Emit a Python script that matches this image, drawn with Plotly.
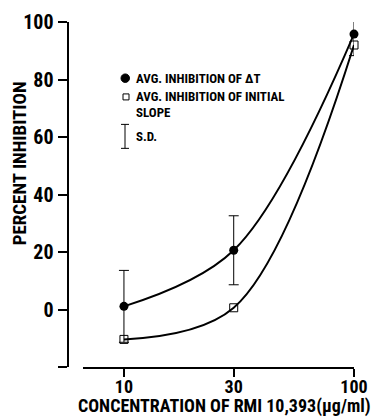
import plotly.graph_objects as go

# data
conc = [10, 30, 100]
avg_dt = [1.1, 20.6, 95.8]
sd_dt = [12.5, 12.0, 7.5]
avg_slope = [-10.4, 0.6, 92.0]
y_ticks = [-20, 0, 20, 40, 60, 80, 100]
y_tick_text = ["", "0", "20", "40", "60", "80", "100"]
x_ticks = [10, 30, 100]
x_tick_text = ["10", "30", "100"]

FONT = "Roboto Condensed, Liberation Sans Narrow, DejaVu Sans Condensed, Roboto, sans-serif"
W, H = 376, 418
ML, MR, MT, MB = 0, 22, 21.5, 51.1
PW = W - ML - MR
PH = H - MT - MB


def px(x):
    return (x - ML) / PW


def py(y):
    return (H - MB - y) / PH


fig = go.Figure()
fig.add_trace(go.Scatter(
    x=conc, y=avg_dt, mode="lines+markers",
    line=dict(color="black", width=2, shape="spline", smoothing=1.0),
    marker=dict(symbol="circle", size=9, color="black"),
    error_y=dict(type="data", array=sd_dt, visible=True, color="black",
                 thickness=1, width=5),
    cliponaxis=False, showlegend=False))
fig.add_trace(go.Scatter(
    x=conc, y=avg_slope, mode="lines+markers",
    line=dict(color="black", width=2, shape="spline", smoothing=1.0),
    marker=dict(symbol="square-open", size=8, color="black",
                line=dict(width=1)),
    cliponaxis=False, showlegend=False))

fig.update_layout(
    width=W, height=H,
    margin=dict(l=ML, r=MR, t=MT, b=MB, pad=0),
    paper_bgcolor="white", plot_bgcolor="white",
    xaxis=dict(type="log", range=[0.822, 2.0], domain=[px(83), 1],
               showgrid=False, zeroline=False, showline=True,
               linecolor="black", linewidth=2, ticks="outside",
               ticklen=2, tickwidth=2, tickcolor="black",
               minor=dict(tickvals=x_ticks, ticks="outside", ticklen=8,
                          tickwidth=2, tickcolor="black", showgrid=False),
               tickvals=x_ticks, ticktext=x_tick_text,
               tickfont=dict(family=FONT, size=18, color="black", weight="bold")),
    yaxis=dict(range=[-20, 100], anchor="free", position=px(67.5),
               showgrid=False, zeroline=False, showline=True,
               linecolor="black", linewidth=2, ticks="outside",
               ticklen=9, tickwidth=2, tickcolor="black",
               tickvals=y_ticks, ticktext=y_tick_text,
               tickfont=dict(family=FONT, size=20, color="black", weight="bold")),
)

ann = []
ann.append(dict(text="CONCENTRATION OF RMI 10,393(\u03bcg/ml)", x=px(76), y=py(406),
                xanchor="left", yanchor="middle",
                xref="paper", yref="paper", showarrow=False,
                font=dict(family=FONT, size=18, color="black", weight="bold")))
ann.append(dict(text="PERCENT INHIBITION", x=px(19), y=py(163), textangle=-90,
                xanchor="center", yanchor="middle",
                xref="paper", yref="paper", showarrow=False,
                font=dict(family=FONT, size=19, color="black", weight="bold")))
legfont = dict(family=FONT, size=13, color="black", weight="bold")
for t, yy in [("AVG. INHIBITION OF \u0394T", 78),
              ("AVG. INHIBITION OF INITIAL", 96.5),
              ("SLOPE", 112), ("S.D.", 136)]:
    ann.append(dict(text=t, x=px(134), y=py(yy), xanchor="left", yanchor="middle",
                    xref="paper", yref="paper", showarrow=False, font=legfont))
fig.update_layout(annotations=ann)

shapes = []
# legend symbols
shapes.append(dict(type="circle", xref="paper", yref="paper",
                   x0=px(121), x1=px(129.5), y0=py(82), y1=py(73.5),
                   fillcolor="black", line=dict(color="black", width=1)))
shapes.append(dict(type="rect", xref="paper", yref="paper",
                   x0=px(123), x1=px(129), y0=py(99.5), y1=py(93.5),
                   fillcolor="white", line=dict(color="black", width=1)))
shapes.append(dict(type="line", xref="paper", yref="paper",
                   x0=px(125), x1=px(125), y0=py(124), y1=py(148),
                   line=dict(color="black", width=1)))
for yy in (124, 148):
    shapes.append(dict(type="line", xref="paper", yref="paper",
                       x0=px(121), x1=px(129), y0=py(yy), y1=py(yy),
                       line=dict(color="black", width=1)))
fig.update_layout(shapes=shapes)

fig.write_html("out.html")
